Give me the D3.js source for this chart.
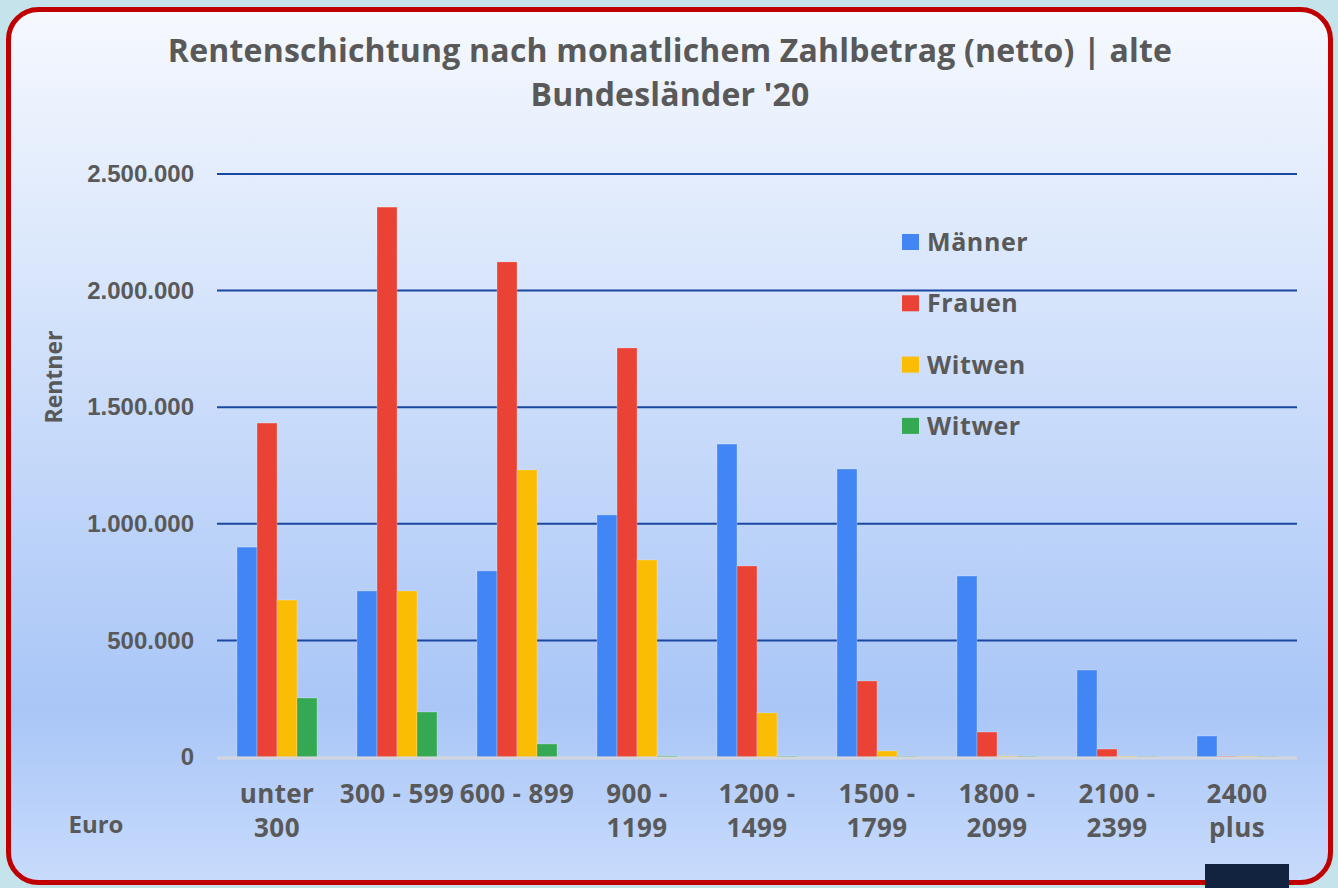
<!DOCTYPE html>
<html>
<head>
<meta charset="utf-8">
<script src="https://cdn.jsdelivr.net/npm/d3@7"></script>
<style>
  html, body { margin: 0; padding: 0; background: #c4e3ea; }
  svg { display: block; }
</style>
</head>
<body>
<svg id="chart" width="1338" height="888"></svg>
<script>
const categories = [["unter", "300"], ["300 - 599"], ["600 - 899"], ["900 -", "1199"], ["1200 -", "1499"], ["1500 -", "1799"], ["1800 -", "2099"], ["2100 -", "2399"], ["2400", "plus"]];
const seriesNames = ["Männer", "Frauen", "Witwen", "Witwer"];
const seriesColors = ["#4285f4", "#ea4335", "#fbbc04", "#34a853"];
const maenner = [900000, 712000, 798000, 1038000, 1342000, 1235000, 776000, 373000, 90000];
const frauen  = [1432000, 2358000, 2123000, 1754000, 819000, 326000, 107000, 34000, 3000];
const witwen  = [673000, 712000, 1231000, 845000, 189000, 26000, 4000, 3000, 3000];
const witwer  = [253000, 193000, 56000, 5000, 4000, 3000, 3000, 2000, 2000];
const yTicks = [0, 500000, 1000000, 1500000, 2000000, 2500000];
const titleLines = ["Rentenschichtung nach monatlichem Zahlbetrag (netto) | alte", "Bundesländer '20"];

const seriesValues = [maenner, frauen, witwen, witwer];
const svg = d3.select("#chart");
const W = 1338, H = 888;

// background gradient
const defs = svg.append("defs");
const grad = defs.append("linearGradient").attr("id", "bg").attr("x1", 0).attr("y1", 0).attr("x2", 0).attr("y2", 1);
grad.append("stop").attr("offset", "0%").attr("stop-color", "#f6f9fe");
grad.append("stop").attr("offset", "80%").attr("stop-color", "#a9c6f7");
grad.append("stop").attr("offset", "100%").attr("stop-color", "#c8dbfc");

svg.append("rect").attr("x", 0).attr("y", 0).attr("width", W).attr("height", H).attr("fill", "#c4e3ea");
svg.append("rect").attr("x", 8.5).attr("y", 9.5).attr("width", 1322).attr("height", 873)
  .attr("rx", 30).attr("ry", 30)
  .attr("fill", "url(#bg)").attr("stroke", "#c00000").attr("stroke-width", 5);

const margin = { left: 217, right: 1297, top: 174, bottom: 757 };
const x0 = d3.scaleBand().domain(d3.range(categories.length)).range([margin.left, margin.right]).paddingInner(0.3333).paddingOuter(0.1667);
const x1 = d3.scaleBand().domain(d3.range(seriesNames.length)).range([0, x0.bandwidth()]);
const y = d3.scaleLinear().domain([0, 2500000]).range([margin.bottom, margin.top]);

const fmt = v => d3.format(",")(v).replace(/,/g, ".");

// y axis labels
const yAxis = d3.axisLeft(y).tickValues(yTicks).tickSize(0).tickFormat(fmt).tickPadding(23);
const gy = svg.append("g").attr("transform", `translate(${margin.left},0)`).call(yAxis);
gy.select(".domain").remove();
gy.selectAll("text")
  .attr("fill", "#595959")
  .style("font-family", "'Liberation Sans', Arial, sans-serif")
  .style("font-weight", "bold")
  .style("font-size", "24px");

// gridlines
svg.append("g").selectAll("line").data(yTicks.filter(d => d > 0)).join("line")
  .attr("x1", margin.left).attr("x2", margin.right)
  .attr("y1", d => y(d)).attr("y2", d => y(d))
  .attr("stroke", "#1a47a0").attr("stroke-width", 2);

// bars
const groups = svg.append("g").selectAll("g").data(categories).join("g")
  .attr("transform", (d, i) => `translate(${x0(i)},0)`);
groups.selectAll("rect").data((d, i) => seriesValues.map((s, k) => ({ k, v: s[i] }))).join("rect")
  .attr("x", d => x1(d.k))
  .attr("width", x1.bandwidth())
  .attr("y", d => y(d.v))
  .attr("height", d => y(0) - y(d.v))
  .attr("fill", d => seriesColors[d.k])
  .attr("stroke", "rgba(255,255,255,0.25)").attr("stroke-width", 1);

// baseline
svg.append("line").attr("x1", margin.left).attr("x2", margin.right)
  .attr("y1", y(0) + 1).attr("y2", y(0) + 1)
  .attr("stroke", "#d3d6dc").attr("stroke-width", 3);

// x labels
const labelFont = "'Open Sans', 'Noto Sans', sans-serif";
const xl = svg.append("g").selectAll("text").data(categories).join("text")
  .attr("x", (d, i) => x0(i) + x0.bandwidth() / 2)
  .attr("y", 803)
  .attr("text-anchor", "middle")
  .attr("fill", "#595959")
  .style("font-family", labelFont).style("font-weight", "bold").style("font-size", "26px")
  .style("letter-spacing", "0.4px");
xl.selectAll("tspan").data(d => d).join("tspan")
  .attr("x", function () { return d3.select(this.parentNode).attr("x"); })
  .attr("dy", (d, i) => i === 0 ? 0 : 34)
  .text(d => d);

svg.append("text").attr("x", 96).attr("y", 833).attr("text-anchor", "middle")
  .attr("fill", "#595959").style("font-family", labelFont).style("font-weight", "bold").style("font-size", "24px")
  .text("Euro");

svg.append("text").attr("transform", "translate(62,377) rotate(-90)").attr("text-anchor", "middle")
  .attr("fill", "#595959").style("font-family", labelFont).style("font-weight", "bold").style("font-size", "23px")
  .text("Rentner");

// title
svg.append("g").selectAll("text").data(titleLines).join("text")
  .attr("x", 670).attr("y", (d, i) => 62 + i * 44)
  .attr("text-anchor", "middle")
  .attr("fill", "#595959")
  .style("font-family", labelFont).style("font-weight", "bold").style("font-size", "32px")
  .style("letter-spacing", "0.2px")
  .text(d => d);

// legend
const lg = svg.append("g").selectAll("g").data(seriesNames).join("g")
  .attr("transform", (d, i) => `translate(902,${242 + i * 61.3})`);
lg.append("rect").attr("x", 0).attr("y", -8).attr("width", 17).attr("height", 16).attr("fill", (d, i) => seriesColors[i]);
lg.append("text").attr("x", 25).attr("y", 9).attr("fill", "#595959")
  .style("font-family", labelFont).style("font-weight", "bold").style("font-size", "25px")
  .style("letter-spacing", "0.6px")
  .text(d => d);

// dark rectangle bottom right
svg.append("rect").attr("x", 1205).attr("y", 864).attr("width", 84).attr("height", 24).attr("fill", "#12233f");
</script>
</body>
</html>
